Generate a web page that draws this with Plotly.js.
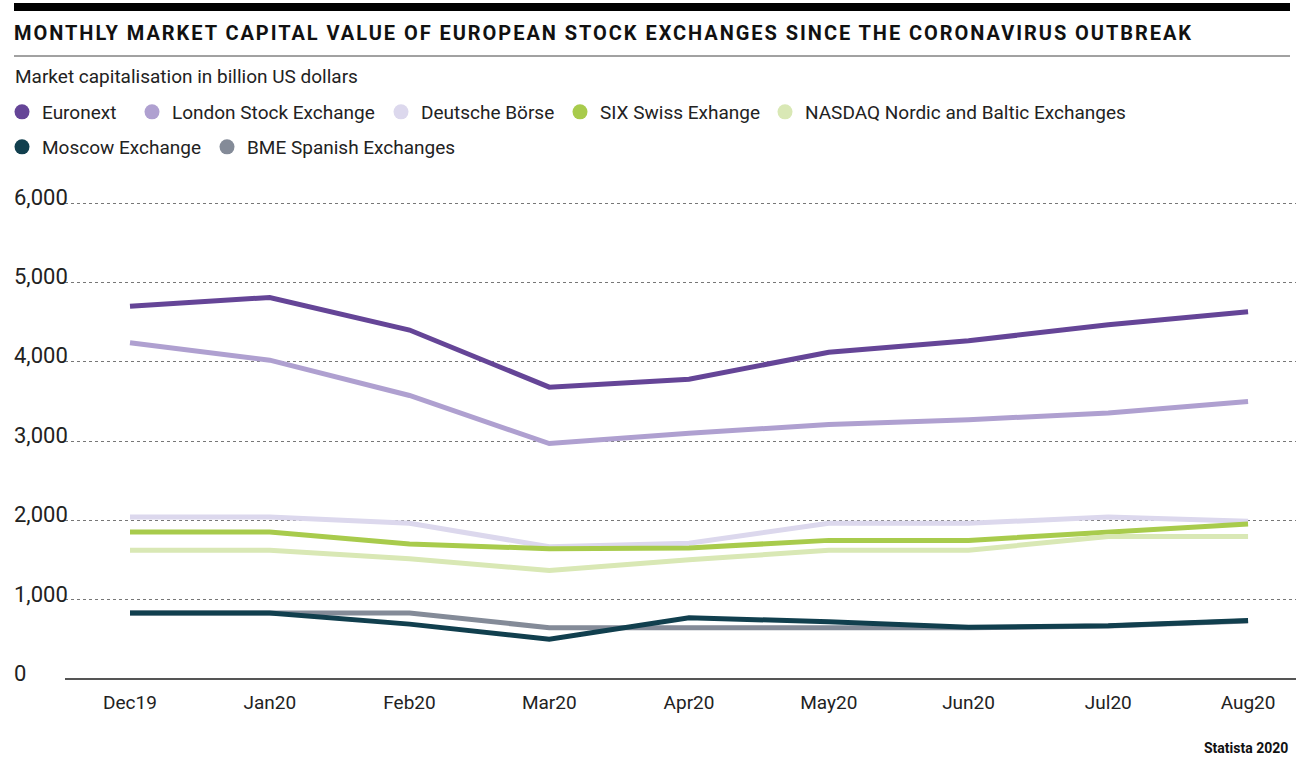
<!DOCTYPE html>
<html>
<head>
<meta charset="utf-8">
<script src="https://cdn.plot.ly/plotly-3.0.1.min.js"></script>
<style>
  html, body { margin: 0; padding: 0; background: #fff; }
  #chart { width: 1296px; height: 763px; }
  .gtitle { letter-spacing: 1.95px; }
</style>
</head>
<body>
<div id="chart"></div>
<script>
const months = ["Dec19", "Jan20", "Feb20", "Mar20", "Apr20", "May20", "Jun20", "Jul20", "Aug20"];

const euronext = [4700, 4810, 4400, 3680, 3780, 4120, 4265, 4465, 4630];
const london   = [4240, 4020, 3575, 2970, 3100, 3210, 3270, 3355, 3500];
const deutsche = [2045, 2045, 1965, 1670, 1715, 1965, 1965, 2045, 1990];
const six      = [1855, 1855, 1705, 1645, 1655, 1750, 1750, 1860, 1955];
const nasdaq   = [1625, 1625, 1520, 1370, 1505, 1625, 1625, 1800, 1800];
const moscow   = [835, 835, 695, 505, 775, 725, 655, 675, 740];
const bme      = [835, 835, 835, 650, 650, 650, 650, 670, 735];

const yTickVals = [0, 1000, 2000, 3000, 4000, 5000, 6000];
const yTickText = ["0", "1,000", "2,000", "3,000", "4,000", "5,000", "6,000"];

const seriesNames = ["Euronext", "London Stock Exchange", "Deutsche Börse", "SIX Swiss Exhange",
                     "NASDAQ Nordic and Baltic Exchanges", "Moscow Exchange", "BME Spanish Exchanges"];
const seriesColors = ["#654597", "#afa0d0", "#dcd8ed", "#a8cb4c", "#d9e8b5", "#113f4e", "#848b98"];
const seriesValues = [euronext, london, deutsche, six, nasdaq, moscow, bme];

const FONT = "Roboto, 'Open Sans', sans-serif";

const W = 1296, H = 763;
const yMin = -150, yMax = 6300;
const k = (679.3 - 203) / 6000;               // px per unit
const plotTop = 203 - (yMax - 6000) * k;      // px from top
const plotBot = 679.3 + (0 - yMin) * k;       // px from top
const py = p => 1 - p / H;   // pixel-from-top -> paper y (no margins)
const px = p => p / W;       // pixel-from-left -> paper x

// legend item placement (left edge px, top px)
const legendSlots = [[2, 93], [132, 93], [381, 93], [560, 93], [765, 93], [2, 128], [207, 128]];

// drawing order: BME below Moscow
const drawOrder = [0, 1, 2, 3, 4, 6, 5];
const traces = [];
drawOrder.forEach(i => {
  traces.push({
    type: "scatter", mode: "lines",
    x: months, y: seriesValues[i],
    name: seriesNames[i],
    line: { color: seriesColors[i], width: 5 },
    showlegend: false,
    hoverinfo: "x+y+name"
  });
});
const legendIds = seriesNames.map((n, i) => i === 0 ? "legend" : "legend" + (i + 1));
seriesNames.forEach((n, i) => {
  traces.push({
    type: "scatter", mode: "markers",
    x: [null], y: [null],
    name: n,
    marker: { color: seriesColors[i], size: 15, symbol: "circle" },
    showlegend: true,
    legend: legendIds[i]
  });
});

const layout = {
  width: W, height: H,
  margin: { l: 0, r: 0, t: 0, b: 0, pad: 0, autoexpand: false },
  paper_bgcolor: "#fff", plot_bgcolor: "#fff",
  font: { family: FONT, color: "#1a1a1a" },
  title: {
    text: "MONTHLY MARKET CAPITAL VALUE OF EUROPEAN STOCK EXCHANGES SINCE THE CORONAVIRUS OUTBREAK",
    font: { family: FONT, size: 20, color: "#111", weight: 700 },
    xref: "paper", x: px(14), xanchor: "left",
    yref: "container", y: 1 - 33 / H, yanchor: "middle"
  },
  xaxis: {
    domain: [px(65), 1],
    type: "category",
    range: [-0.465, 8.343],
    showgrid: false, zeroline: false, showline: false,
    ticks: "", ticklabelstandoff: -2,
    tickfont: { family: FONT, size: 19, color: "#222" },
    automargin: false,
    fixedrange: true
  },
  yaxis: {
    domain: [py(plotBot), py(plotTop)],
    anchor: "free", position: px(10),
    range: [yMin, yMax],
    tickvals: yTickVals,
    ticktext: yTickText,
    ticklabelposition: "inside",
    ticklabelshift: -6,
    showgrid: true, gridcolor: "#777", griddash: "dot", gridwidth: 1,
    zeroline: true, zerolinecolor: "#555", zerolinewidth: 1.5,
    showline: false, ticks: "",
    tickfont: { family: FONT, size: 22, color: "#222" },
    automargin: false,
    fixedrange: true
  },
  shapes: [
    { type: "rect", xref: "paper", yref: "paper", x0: px(14), x1: px(1290), y0: py(11), y1: py(3),
      fillcolor: "#000", line: { width: 0 } },
    { type: "line", xref: "paper", yref: "paper", x0: px(14), x1: px(1290), y0: py(56), y1: py(56),
      line: { color: "#444", width: 1 } }
  ],
  annotations: [
    { text: "Market capitalisation in billion US dollars", xref: "paper", yref: "paper",
      x: px(13), xanchor: "left", y: py(76), yanchor: "middle", showarrow: false,
      font: { family: FONT, size: 19, color: "#222" } },
    { text: "<b>Statista 2020</b>", xref: "paper", yref: "paper",
      x: px(1290), xanchor: "right", y: py(748), yanchor: "middle", showarrow: false,
      font: { family: FONT, size: 14, color: "#111" } }
  ],
  hovermode: "closest"
};
legendIds.forEach((id, i) => {
  layout[id] = {
    orientation: "h",
    xref: "paper", x: px(legendSlots[i][0]), xanchor: "left",
    yref: "paper", y: py(legendSlots[i][1]), yanchor: "top",
    font: { family: FONT, size: 19, color: "#222" },
    itemclick: false, itemdoubleclick: false,
    bgcolor: "rgba(0,0,0,0)"
  };
});

Plotly.newPlot("chart", traces, layout, { displayModeBar: false, responsive: false });
</script>
</body>
</html>
